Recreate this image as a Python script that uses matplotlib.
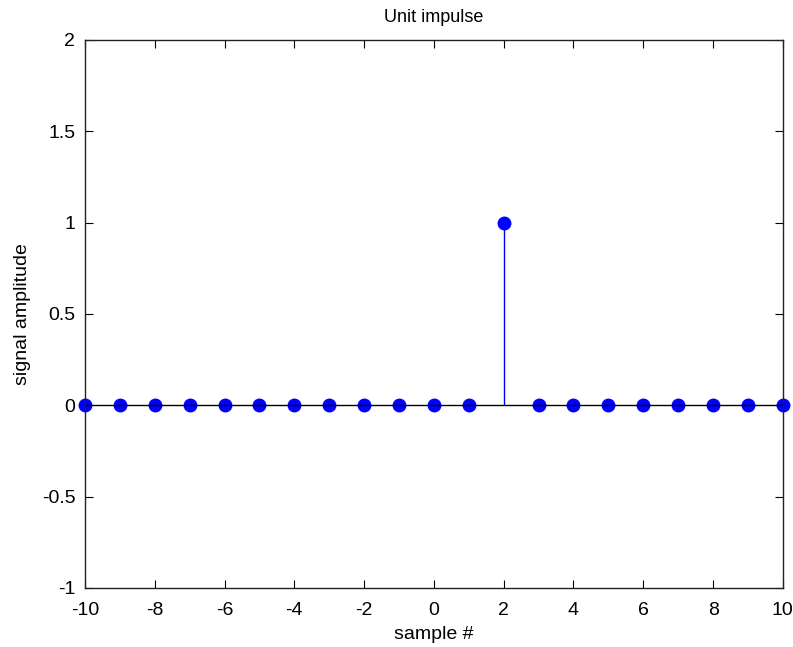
import numpy as np
import matplotlib.pyplot as plt

plt.rcParams['font.family'] = ['Liberation Sans', 'DejaVu Sans']
plt.rcParams['axes.unicode_minus'] = False

# sample indices and unit impulse delayed by 2
n = [-10, -9, -8, -7, -6, -5, -4, -3, -2, -1, 0, 1, 2, 3, 4, 5, 6, 7, 8, 9, 10]
x = [0, 0, 0, 0, 0, 0, 0, 0, 0, 0, 0, 0, 1, 0, 0, 0, 0, 0, 0, 0, 0]

fig = plt.figure(figsize=(7.93, 6.47), dpi=100)
ax = fig.add_axes([0.1072, 0.0912, 0.880, 0.847])

markerline, stemlines, baseline = ax.stem(n, x, linefmt='-', markerfmt='o', basefmt='-')
plt.setp(stemlines, color='#0000ff', linewidth=1.0)
plt.setp(markerline, color='#0000ff', markersize=9, markeredgecolor='#0000ff')
plt.setp(baseline, color='black', linewidth=1.0)
markerline.set_clip_on(False)

ax.set_xlim(-10, 10)
ax.set_ylim(-1, 2)
ax.set_xticks(np.arange(-10, 11, 2))
ax.set_yticks(np.arange(-1, 2.01, 0.5))
ax.set_yticklabels(['-1', '-0.5', '0', '0.5', '1', '1.5', '2'])
ax.tick_params(direction='in', top=True, right=True, length=6, labelsize=14)
ax.tick_params(axis='x', pad=10)
ax.tick_params(axis='y', pad=7)
for s in ax.spines.values():
    s.set_linewidth(1.0)
    s.set_color('#222222')

ax.set_title('Unit impulse', fontsize=13, pad=13)
ax.set_xlabel('sample #', fontsize=14, labelpad=5)
ax.set_ylabel('signal amplitude', fontsize=14, labelpad=8)

fig.savefig('out.png', dpi=100)
